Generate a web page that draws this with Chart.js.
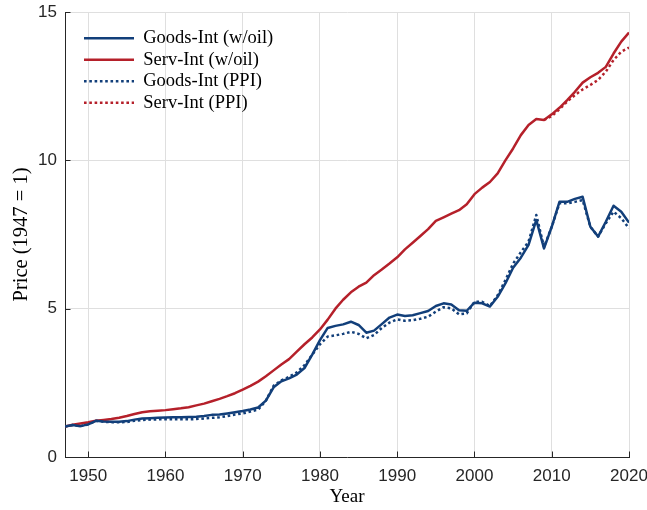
<!DOCTYPE html>
<html>
<head>
<meta charset="utf-8">
<script src="https://cdn.jsdelivr.net/npm/chart.js@4.4.1/dist/chart.umd.min.js"></script>
<style>
html,body{margin:0;padding:0;background:#fff;}
#wrap{width:647px;height:510px;}
</style>
</head>
<body>
<div id="wrap"><canvas id="c" width="647" height="510"></canvas></div>
<script>
const years = [
  1947,1948,1949,1950,1951,1952,1953,1954,1955,1956,
  1957,1958,1959,1960,1961,1962,1963,1964,1965,1966,
  1967,1968,1969,1970,1971,1972,1973,1974,1975,1976,
  1977,1978,1979,1980,1981,1982,1983,1984,1985,1986,
  1987,1988,1989,1990,1991,1992,1993,1994,1995,1996,
  1997,1998,1999,2000,2001,2002,2003,2004,2005,2006,
  2007,2008,2009,2010,2011,2012,2013,2014,2015,2016,
  2017,2018,2019,2020
];
const goodsWoil = [
  1.03,1.08,1.04,1.10,1.22,1.20,1.19,1.19,1.21,1.26,
  1.30,1.31,1.32,1.33,1.34,1.34,1.35,1.36,1.38,1.42,
  1.43,1.47,1.51,1.55,1.60,1.67,1.90,2.35,2.55,2.65,
  2.78,3.00,3.45,3.94,4.35,4.42,4.47,4.56,4.45,4.19,
  4.26,4.48,4.70,4.80,4.75,4.78,4.85,4.92,5.09,5.18,
  5.14,4.95,4.93,5.20,5.18,5.07,5.40,5.85,6.38,6.72,
  7.15,7.99,7.03,7.76,8.60,8.60,8.70,8.77,7.76,7.43,
  7.93,8.47,8.27,7.90
];
const servWoil = [
  1.03,1.09,1.13,1.17,1.22,1.25,1.28,1.32,1.38,1.45,
  1.51,1.54,1.56,1.58,1.61,1.64,1.68,1.74,1.80,1.88,
  1.96,2.05,2.15,2.27,2.40,2.54,2.72,2.92,3.12,3.30,
  3.55,3.80,4.03,4.30,4.63,5.00,5.30,5.55,5.74,5.88,
  6.13,6.32,6.52,6.73,7.00,7.22,7.45,7.68,7.96,8.08,
  8.20,8.32,8.52,8.86,9.08,9.27,9.56,10.00,10.40,10.85,
  11.19,11.39,11.36,11.55,11.77,12.03,12.31,12.62,12.80,12.95,
  13.15,13.60,14.00,14.31
];
const goodsPPI = [
  1.03,1.08,1.04,1.10,1.22,1.19,1.17,1.17,1.18,1.22,
  1.25,1.26,1.27,1.27,1.27,1.27,1.27,1.28,1.30,1.32,
  1.34,1.38,1.43,1.47,1.53,1.60,1.90,2.40,2.58,2.70,
  2.85,3.10,3.45,3.80,4.06,4.10,4.15,4.22,4.15,4.00,
  4.11,4.35,4.53,4.64,4.59,4.61,4.66,4.73,4.90,5.05,
  5.01,4.81,4.84,5.23,5.23,5.09,5.45,5.96,6.52,6.90,
  7.26,8.16,7.08,7.76,8.55,8.55,8.60,8.66,7.76,7.43,
  7.88,8.27,8.05,7.71
];
const servPPI = [
  null,null,null,null,null,null,null,null,null,null,
  null,null,null,null,null,null,null,null,null,null,
  null,null,null,null,null,null,null,null,null,null,
  null,null,null,null,null,null,null,null,null,null,
  null,null,null,null,null,null,null,null,null,null,
  null,null,null,null,null,null,null,null,null,null,
  null,null,11.36,11.49,11.72,11.98,12.20,12.39,12.54,12.71,
  12.99,13.38,13.66,13.80
];
const xTicks = [1950,1960,1970,1980,1990,2000,2010,2020];
const yTicks = [0,5,10,15];
const seriesNames = ['Goods-Int (w/oil)','Serv-Int (w/oil)','Goods-Int (PPI)','Serv-Int (PPI)'];
const xTitle = 'Year';
const yTitle = 'Price (1947 = 1)';

const BLUE = '#123f7a';
const RED = '#b5202a';
const AXIS = '#262626';
const GRID = '#dfdfdf';
const SERIF = "'Liberation Serif', 'Times New Roman', serif";
const SANS = "'Liberation Sans', Arial, Helvetica, sans-serif";
const DOT = [2.6, 2.7];

// Draws MATLAB-style inward tick marks using the chart's own scales
const innerTicks = {
  id: 'innerTicks',
  afterDatasetsDraw(chart) {
    const {ctx, chartArea: a, scales: {x, y}} = chart;
    ctx.save();
    ctx.strokeStyle = AXIS;
    ctx.lineWidth = 1;
    ctx.beginPath();
    x.ticks.forEach(t => {
      const px = Math.round(x.getPixelForValue(t.value)) + 0.5;
      ctx.moveTo(px, a.bottom);
      ctx.lineTo(px, a.bottom - 5.5);
    });
    y.ticks.forEach(t => {
      const py = Math.round(y.getPixelForValue(t.value)) + 0.5;
      ctx.moveTo(a.left, py);
      ctx.lineTo(a.left + 5.5, py);
    });
    ctx.stroke();
    ctx.restore();
  }
};

// Places the built-in legend inside the plot area (top-left), without reserving layout space
const legendInside = {
  id: 'legendInside',
  beforeLayout(chart) {
    const lg = chart.legend;
    if (lg && !lg.__patched) {
      const orig = lg.update;
      lg.update = function(...args) {
        const r = orig.apply(this, args);
        this.__h = this.height;
        this.width = 0;
        this.height = 0;
        return r;
      };
      lg.__patched = true;
    }
  },
  afterLayout(chart) {
    const lg = chart.legend;
    if (!lg) return;
    lg.left = 81;
    lg.top = 26;
    lg.width = 320;
    lg.height = lg.__h;
    lg.right = lg.left + lg.width;
    lg.bottom = lg.top + lg.height;
  }
};

const ctx = document.getElementById('c').getContext('2d');
new Chart(ctx, {
  type: 'line',
  data: {
    labels: years,
    datasets: [
      {label: seriesNames[0], data: goodsWoil, borderColor: BLUE, backgroundColor: 'rgba(0,0,0,0)', borderWidth: 2.5},
      {label: seriesNames[1], data: servWoil, borderColor: RED, backgroundColor: 'rgba(0,0,0,0)', borderWidth: 2.5},
      {label: seriesNames[2], data: goodsPPI, borderColor: BLUE, backgroundColor: 'rgba(0,0,0,0)', borderWidth: 2.5, borderDash: DOT},
      {label: seriesNames[3], data: servPPI, borderColor: RED, backgroundColor: 'rgba(0,0,0,0)', borderWidth: 2.5, borderDash: DOT}
    ]
  },
  options: {
    responsive: false,
    animation: false,
    devicePixelRatio: 1,
    layout: {padding: {left: 0, right: 18, top: 12, bottom: 0}},
    elements: {
      point: {radius: 0, hoverRadius: 0},
      line: {tension: 0, borderCapStyle: 'butt', borderJoinStyle: 'round', fill: false}
    },
    plugins: {
      tooltip: {enabled: false},
      legend: {
        display: true,
        position: 'left',
        align: 'start',
        labels: {
          usePointStyle: true,
          pointStyle: 'line',
          pointStyleWidth: 50,
          padding: 3,
          color: '#000',
          font: {family: SERIF, size: 18.5},
          generateLabels(chart) {
            const items = Chart.defaults.plugins.legend.labels.generateLabels(chart);
            items.forEach(it => {
              const ds = chart.data.datasets[it.datasetIndex];
              it.lineDash = ds.borderDash || [];
              it.lineWidth = ds.borderWidth;
              it.strokeStyle = ds.borderColor;
              it.fillStyle = 'rgba(0,0,0,0)';
              it.lineCap = 'butt';
              it.pointStyle = 'line';
            });
            return items;
          }
        }
      }
    },
    scales: {
      x: {
        type: 'linear',
        min: 1947,
        max: 2020,
        afterBuildTicks(s) { s.ticks = xTicks.map(v => ({value: v})); },
        afterFit(s) { s.height = 53; s.paddingLeft = 0; s.paddingRight = 0; },
        grid: {color: GRID, lineWidth: 1, drawTicks: false},
        border: {display: true, color: AXIS, width: 1},
        ticks: {
          color: AXIS,
          padding: 9,
          maxRotation: 0,
          autoSkip: false,
          font: {family: SANS, size: 17},
          callback: v => String(v)
        },
        title: {display: true, text: xTitle, color: '#000', font: {family: SERIF, size: 19}, padding: {top: 0, bottom: 2}}
      },
      y: {
        type: 'linear',
        min: 0,
        max: 15,
        afterBuildTicks(s) { s.ticks = yTicks.map(v => ({value: v})); },
        afterFit(s) { s.width = 65; s.paddingTop = 0; s.paddingBottom = 0; },
        grid: {color: GRID, lineWidth: 1, drawTicks: false},
        border: {display: true, color: AXIS, width: 1},
        ticks: {
          color: AXIS,
          padding: 8,
          font: {family: SANS, size: 17},
          callback: v => String(v)
        },
        title: {display: true, text: yTitle, color: '#000', font: {family: SERIF, size: 20.5}, padding: {top: 9, bottom: 0}}
      }
    }
  },
  plugins: [innerTicks, legendInside]
});
</script>
</body>
</html>
